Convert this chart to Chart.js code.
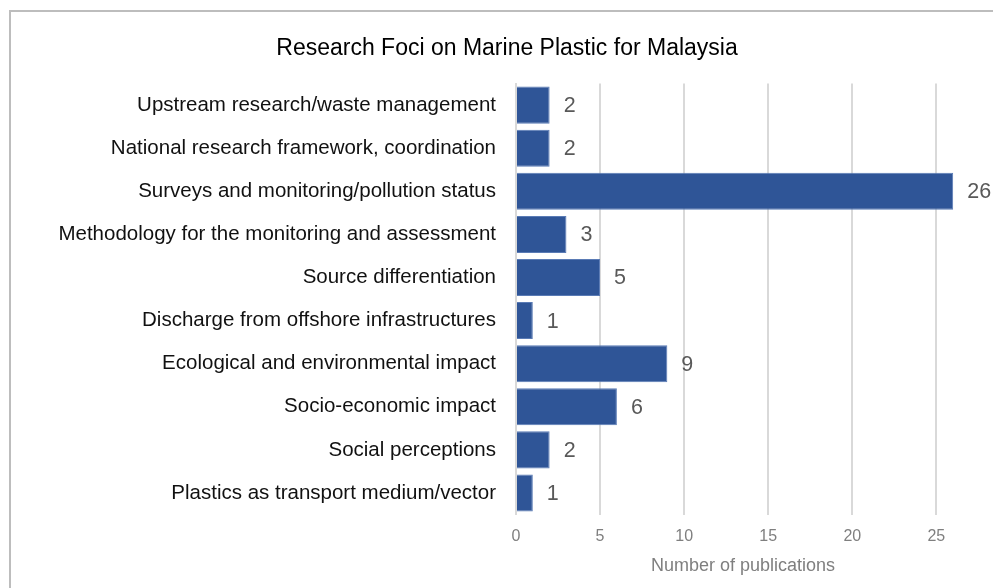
<!DOCTYPE html>
<html>
<head>
<meta charset="utf-8">
<script src="https://cdn.jsdelivr.net/npm/chart.js@4"></script>
<style>
    html, body { margin: 0; padding: 0; background: #fff; overflow: hidden; }
    #frame {
        position: absolute; left: 9px; top: 10px; width: 1100px; height: 700px;
        border: 2px solid #bdbdbd; box-sizing: border-box;
    }
    #wrap { position: absolute; left: 0; top: 0; width: 1014px; height: 588px; }
</style>
</head>
<body>
<div id="frame"></div>
<div id="wrap"><canvas id="chart" width="1014" height="588"></canvas></div>
<script>
// Catégories et valeurs
const categories = [
    'Upstream research/waste management',
    'National research framework, coordination',
    'Surveys and monitoring/pollution status',
    'Methodology for the monitoring and assessment',
    'Source differentiation',
    'Discharge from offshore infrastructures',
    'Ecological and environmental impact',
    'Socio-economic impact',
    'Social perceptions',
    'Plastics as transport medium/vector'
];
const publications = [2, 2, 26, 3, 5, 1, 9, 6, 2, 1];
const xTicks = [0, 5, 10, 15, 20, 25];

const colors = {
    bar: '#2f5597',
    barEdge: '#5a7bb5',
    grid: '#d9d9d9',
    tick: '#7f7f7f',
    label: '#595959',
    text: '#111111'
};

const fontFamily = '"Liberation Sans", Arial, sans-serif';

// Étiquettes de valeur à droite des barres
const valueLabels = {
    id: 'valueLabels',
    afterDatasetsDraw(chart) {
        const { ctx } = chart;
        const meta = chart.getDatasetMeta(0);
        ctx.save();
        ctx.font = '21.5px ' + fontFamily;
        ctx.fillStyle = colors.label;
        ctx.textAlign = 'left';
        ctx.textBaseline = 'middle';
        meta.data.forEach((bar, i) => {
            ctx.fillText(String(publications[i]), bar.x + 14, bar.y + 1);
        });
        ctx.restore();
    }
};

new Chart(document.getElementById('chart'), {
    type: 'bar',
    data: {
        labels: categories,
        datasets: [{
            data: publications,
            backgroundColor: colors.bar,
            borderColor: colors.barEdge,
            borderWidth: 1,
            categoryPercentage: 1,
            barPercentage: 0.86
        }]
    },
    options: {
        indexAxis: 'y',
        responsive: false,
        animation: false,
        layout: { padding: 0 },
        plugins: {
            legend: { display: false },
            tooltip: { enabled: false },
            title: {
                display: true,
                text: 'Research Foci on Marine Plastic for Malaysia',
                color: '#000',
                font: { family: fontFamily, size: 23, weight: 'normal' },
                padding: { top: 35, bottom: 21 }
            }
        },
        scales: {
            x: {
                min: 0,
                max: 27,
                afterBuildTicks(scale) {
                    scale.ticks = xTicks.map(v => ({ value: v }));
                },
                afterFit(scale) {
                    scale.paddingRight = 44;
                    scale.height = 73.5;
                },
                grid: { color: colors.grid, lineWidth: 2, drawTicks: false },
                border: { display: false },
                ticks: {
                    color: colors.tick,
                    padding: 12,
                    font: { family: fontFamily, size: 16 }
                },
                title: {
                    display: true,
                    text: 'Number of publications',
                    color: colors.tick,
                    font: { family: fontFamily, size: 18 },
                    padding: { top: 9, bottom: 11 }
                }
            },
            y: {
                afterFit(scale) {
                    scale.width = 516;
                },
                grid: { display: false, drawTicks: false },
                border: { display: true, color: colors.grid, width: 2 },
                ticks: {
                    color: colors.text,
                    padding: 20,
                    font: { family: fontFamily, size: 20.5 }
                }
            }
        }
    },
    plugins: [valueLabels]
});
</script>
</body>
</html>
